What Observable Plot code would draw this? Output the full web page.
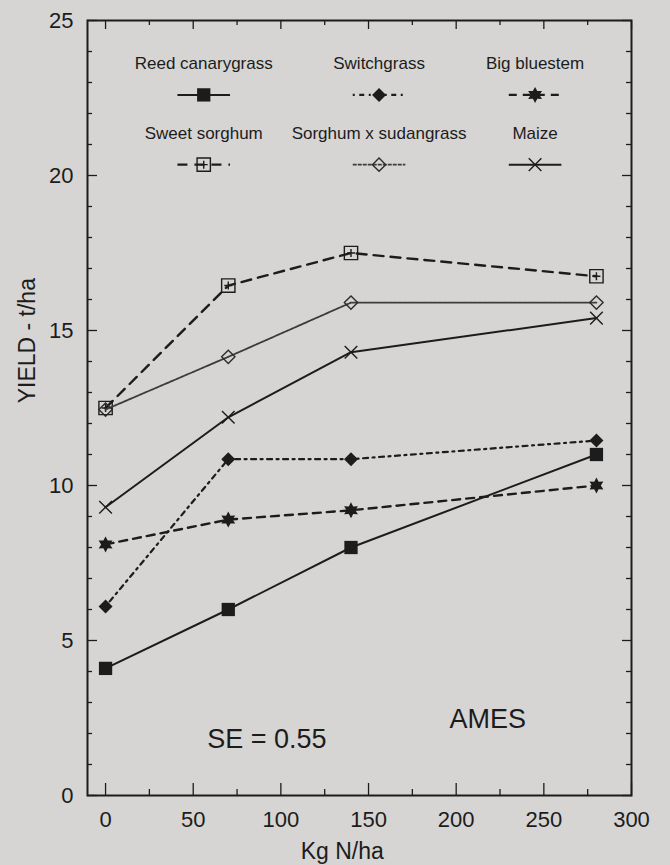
<!DOCTYPE html>
<html>
<head>
<meta charset="utf-8">
<script src="https://cdn.jsdelivr.net/npm/d3@7"></script>
<script src="https://cdn.jsdelivr.net/npm/@observablehq/plot@0.6"></script>
<style>
  html, body { margin: 0; padding: 0; background: #d6d5d3; }
  #chart { width: 670px; height: 865px; }
</style>
</head>
<body>
<div id="chart"></div>
<script>
// Nitrogen rates (kg N/ha) and dry-matter yield (t/ha) at Ames
const nitrogen = [0, 70, 140, 280];
const seriesNames = ["Reed canarygrass", "Switchgrass", "Big bluestem",
                     "Sweet sorghum", "Sorghum x sudangrass", "Maize"];
const reedCanarygrass = [4.1, 6.0, 8.0, 11.0];
const switchgrass     = [6.1, 10.85, 10.85, 11.45];
const bigBluestem     = [8.1, 8.9, 9.2, 10.0];
const sweetSorghum    = [12.5, 16.45, 17.5, 16.75];
const sorghumSudan    = [12.45, 14.15, 15.9, 15.9];
const maize           = [9.3, 12.2, 14.3, 15.4];
const xTicks = [0, 50, 100, 150, 200, 250, 300];
const xMinorTicks = [25, 75, 125, 175, 225, 275];
const yTicks = [0, 5, 10, 15, 20, 25];
const yMinorTicks = d3.range(1, 25).filter(v => v % 5 !== 0);
const seText = "SE = 0.55";
const siteText = "AMES";

const ink = "#1c1c1c";

// six-pointed filled star
const hexStar = {
  draw(ctx, size) {
    const R = Math.sqrt(size / Math.PI), r = R * 0.55;
    for (let i = 0; i < 12; i++) {
      const a = Math.PI / 6 * i - Math.PI / 2, rr = i % 2 ? r : R;
      const px = rr * Math.cos(a), py = rr * Math.sin(a);
      i ? ctx.lineTo(px, py) : ctx.moveTo(px, py);
    }
    ctx.closePath();
  }
};
// open square with a small cross inside
const boxPlus = {
  draw(ctx, size) {
    const R = Math.sqrt(size / Math.PI), s = R * 0.95, c = s * 0.6;
    ctx.moveTo(-s, -s); ctx.lineTo(s, -s); ctx.lineTo(s, s); ctx.lineTo(-s, s); ctx.closePath();
    ctx.moveTo(-c, 0); ctx.lineTo(c, 0);
    ctx.moveTo(0, -c); ctx.lineTo(0, c);
  }
};

const seriesValues = [reedCanarygrass, switchgrass, bigBluestem, sweetSorghum, sorghumSudan, maize];
const styles = [
  {line: {stroke: ink, strokeWidth: 2}, dot: {symbol: "square", r: 7.5, fill: ink}},
  {line: {stroke: ink, strokeWidth: 2.2, strokeDasharray: "2,4.5,5,4.5"}, dot: {symbol: "diamond2", r: 6.3, fill: ink}},
  {line: {stroke: ink, strokeWidth: 2.4, strokeDasharray: "8,6"}, dot: {symbol: hexStar, r: 8, fill: ink}},
  {line: {stroke: ink, strokeWidth: 2.4, strokeDasharray: "10,7"}, dot: {symbol: boxPlus, r: 7, fill: "none", stroke: ink, strokeWidth: 1.4}},
  {line: {stroke: "#3c3c3c", strokeWidth: 1.8, strokeDasharray: "4,1"}, dot: {symbol: "diamond2", r: 6, fill: "none", stroke: "#2c2c2c", strokeWidth: 1.4}},
  {line: {stroke: ink, strokeWidth: 2}, dot: {symbol: "times", r: 5.8, fill: "none", stroke: ink, strokeWidth: 1.4}}
];

// legend grid (data units): three columns, two rows
const legendCols = [56, 156, 245];
const legendTextRows = [23.6, 21.35];
const legendKeyRows = [22.6, 20.35];
const legendHalf = 15;

const marks = [];
seriesNames.forEach((name, i) => {
  const data = nitrogen.map((n, j) => ({n, v: seriesValues[i][j]}));
  const st = styles[i];
  marks.push(Plot.line(data, {x: "n", y: "v", ...st.line}));
  marks.push(Plot.dot(data, {x: "n", y: "v", ...st.dot}));
  const lx = legendCols[i % 3], row = Math.floor(i / 3);
  marks.push(Plot.text([name], {x: lx, y: legendTextRows[row], text: d => d, fontSize: 17, fill: ink}));
  marks.push(Plot.link([name], {x1: lx - legendHalf, x2: lx + legendHalf, y1: legendKeyRows[row], y2: legendKeyRows[row], ...st.line}));
  marks.push(Plot.dot([name], {x: lx, y: legendKeyRows[row], ...st.dot}));
});

const chart = Plot.plot({
  width: 670,
  height: 865,
  marginTop: 20,
  marginRight: 39,
  marginBottom: 70,
  marginLeft: 87,
  style: {background: "#d6d5d3", fontFamily: "'Liberation Sans', Arial, Helvetica, sans-serif", color: ink},
  x: {domain: [-10.3, 300]},
  y: {domain: [0, 25]},
  marks: [
    // inward ticks on all four sides
    Plot.axisX(xTicks, {anchor: "bottom", tickSize: -12, fill: "none", label: null, strokeWidth: 1.3}),
    Plot.axisX(xMinorTicks, {anchor: "bottom", tickSize: -6, fill: "none", label: null, strokeWidth: 1.3}),
    Plot.axisX(xTicks, {anchor: "top", tickSize: -8, fill: "none", label: null, strokeWidth: 1.3}),
    Plot.axisX(xMinorTicks, {anchor: "top", tickSize: -4, fill: "none", label: null, strokeWidth: 1.3}),
    Plot.axisY(yTicks, {anchor: "left", tickSize: -10, fill: "none", label: null, strokeWidth: 1.3}),
    Plot.axisY(yMinorTicks, {anchor: "left", tickSize: -5, fill: "none", label: null, strokeWidth: 1.3}),
    Plot.axisY(yTicks, {anchor: "right", tickSize: -10, fill: "none", label: null, strokeWidth: 1.3}),
    Plot.axisY(yMinorTicks, {anchor: "right", tickSize: -6, fill: "none", label: null, strokeWidth: 1.3}),
    // tick labels
    Plot.axisX(xTicks, {anchor: "bottom", tickSize: 0, tickPadding: 16, fontSize: 22, label: null, stroke: "none"}),
    Plot.axisY(yTicks, {anchor: "left", tickSize: 0, tickPadding: 14, fontSize: 22, label: null, stroke: "none"}),
    Plot.frame({stroke: ink, strokeWidth: 2}),
    ...marks,
    // axis titles
    Plot.text(["Kg N/ha"], {x: 135, frameAnchor: "bottom", dy: 63, text: d => d, fontSize: 23, fill: ink}),
    Plot.text(["YIELD - t/ha"], {y: 12.65, frameAnchor: "left", dx: -60, rotate: -90, text: d => d, fontSize: 23, fill: ink}),
    // annotations
    Plot.text([seText], {x: 92, y: 1.8, text: d => d, fontSize: 27, fill: ink}),
    Plot.text([siteText], {x: 218, y: 2.45, text: d => d, fontSize: 27, fill: ink})
  ]
});
document.getElementById("chart").append(chart);
</script>
</body>
</html>
